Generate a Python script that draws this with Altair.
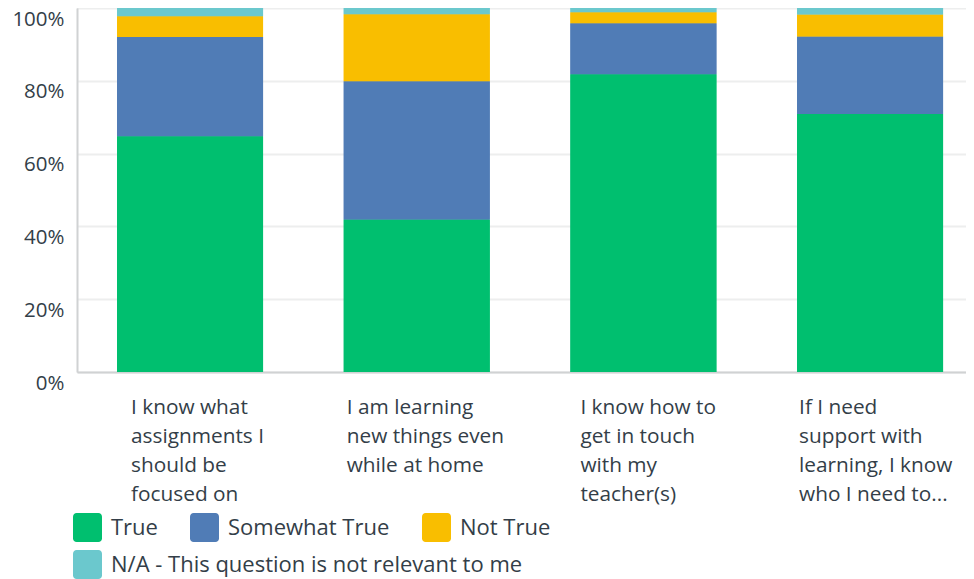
import altair as alt
import pandas as pd

categories = [
    "I know what assignments I should be focused on",
    "I am learning new things even while at home",
    "I know how to get in touch with my teacher(s)",
    "If I need support with learning, I know who I need to...",
]
tick_label_lines = [
    ["I know what", "assignments I", "should be", "focused on"],
    ["I am learning", "new things even", "while at home"],
    ["I know how to", "get in touch", "with my", "teacher(s)"],
    ["If I need", "support with", "learning, I know", "who I need to..."],
]
series = ["True", "Somewhat True", "Not True", "N/A - This question is not relevant to me"]
colors = ["#00BF6F", "#507CB6", "#F9BE00", "#6BC8CD"]

true_vals = [64.8, 41.9, 81.8, 70.9]
somewhat_vals = [27.2, 38.0, 14.0, 21.3]
not_true_vals = [5.7, 18.4, 3.0, 6.0]
na_vals = [2.3, 1.7, 1.2, 1.8]

y_ticks = [0, 10, 20, 30, 40, 50, 60, 70, 80, 90, 100]

rows = []
for s_i, (s, vals) in enumerate(zip(series, [true_vals, somewhat_vals, not_true_vals, na_vals])):
    for c, v in zip(categories, vals):
        rows.append({"question": c, "response": s, "pct": v, "idx": s_i})
df = pd.DataFrame(rows)

FONT = "Open Sans"
TEXT = "#333E48"

def js_arr(lines):
    return "[" + ",".join("'" + l.replace("'", "\\'") + "'" for l in lines) + "]"

label_expr = "''"
for c, lines in reversed(list(zip(categories, tick_label_lines))):
    label_expr = f"datum.value == '{c}' ? {js_arr(lines)} : ({label_expr})"

label_offsets = [-59, -70, -63, -71]
label_offset_cond = {
    "condition": [{"test": f"datum.value == '{c}'", "value": o} for c, o in zip(categories, label_offsets)],
    "value": -66,
}

rounded_square = (
    "M -0.75 -1 L 0.75 -1 A 0.25 0.25 0 0 1 1 -0.75 L 1 0.75 A 0.25 0.25 0 0 1 0.75 1 "
    "L -0.75 1 A 0.25 0.25 0 0 1 -1 0.75 L -1 -0.75 A 0.25 0.25 0 0 1 -0.75 -1 Z"
)

x_enc = alt.X(
    "question:N",
    sort=categories,
    scale=alt.Scale(paddingInner=0.356, paddingOuter=0.139, align=0.636),
    axis=alt.Axis(
        title=None,
        labelAngle=0,
        labelAlign="left",
        labelBaseline="top",
        labelOffset=label_offset_cond,
        labelPadding=25,
        labelExpr=label_expr,
        labelFont=FONT,
        labelFontSize=20.8,
        labelColor=TEXT,
        labelLineHeight=29,
        labelLimit=0,
        ticks=False,
        domain=True,
        domainColor="#D0D2D3",
        domainWidth=2,
        grid=False,
    ),
)
y_enc = alt.Y(
    "pct:Q",
    stack="zero",
    scale=alt.Scale(domain=[0, 100], nice=False),
    axis=alt.Axis(
        title=None,
        values=y_ticks,
        labelExpr="datum.value % 20 == 0 ? datum.value + '%' : ''",
        grid=True,
        gridColor="#EDEEEE",
        gridWidth=2,
        ticks=False,
        domain=True,
        domainColor="#D0D2D3",
        domainWidth=2,
        labelPadding=13,
        labelOffset=11,
        labelFlush=False,
        labelOverlap=False,
        labelBaseline="middle",
        labelFont=FONT,
        labelFontSize=20.5,
        labelColor=TEXT,
    ),
)

def legend(values, y):
    return alt.Legend(
        title=None,
        values=values,
        orient="none",
        legendX=-4,
        legendY=y,
        direction="horizontal",
        symbolType=rounded_square,
        symbolSize=841,
        symbolStrokeWidth=0,
        symbolOpacity=1,
        labelFont=FONT,
        labelFontSize=22,
        labelColor=TEXT,
        labelOffset=9,
        labelLimit=0,
        columnPadding=32,
    )

base = alt.Chart(df).mark_bar()

layer_main = base.encode(
    x=x_enc,
    y=y_enc,
    color=alt.Color(
        "response:N",
        sort=series,
        scale=alt.Scale(domain=series, range=colors),
        legend=legend(series[:3], 505),
    ),
    order=alt.Order("idx:Q", sort="ascending"),
)
layer_na = base.encode(
    x=alt.X("question:N", sort=categories),
    y=alt.Y("pct:Q", stack="zero"),
    color=alt.Color(
        "response:N",
        sort=series,
        scale=alt.Scale(domain=series, range=colors),
        legend=legend(series[3:], 542),
    ),
    order=alt.Order("idx:Q", sort="ascending"),
)

chart = (
    alt.layer(layer_main, layer_na)
    .resolve_scale(color="independent")
    .properties(
        width=889,
        height=364,
        autosize=alt.AutoSizeParams(type="none"),
        padding={"left": 69, "top": 0, "right": 0, "bottom": 207},
    )
    .configure_view(stroke=None)
    .configure(background="white")
)

chart.save("out.html", embed_options={"renderer": "svg", "actions": False})
